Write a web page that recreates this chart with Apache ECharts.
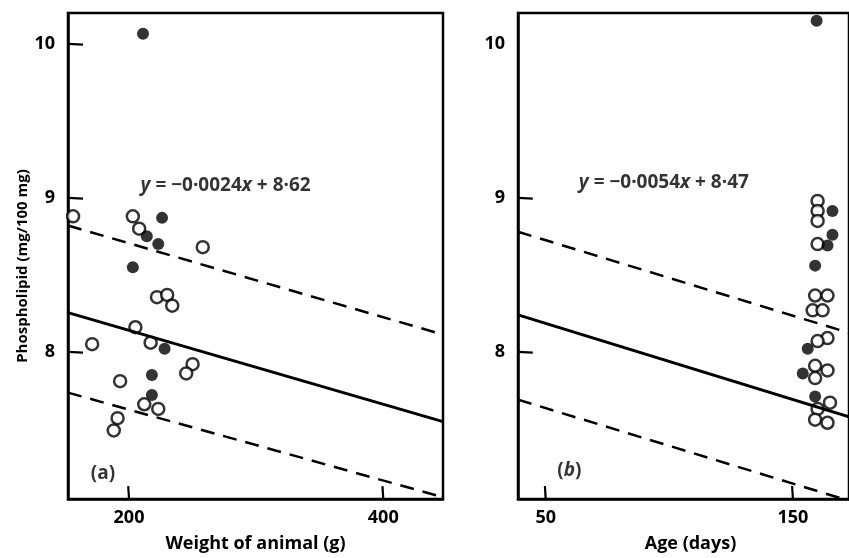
<!DOCTYPE html>
<html>
<head>
<meta charset="utf-8">
<script src="https://cdn.jsdelivr.net/npm/echarts@6/dist/echarts.min.js"></script>
<style>
  html, body { margin: 0; padding: 0; background: #fff; }
  #chart { width: 849px; height: 558px; }
</style>
</head>
<body>
<div id="chart"></div>
<script>
// panel (a): weight of animal vs phospholipid
const weightOpen = [[156, 8.88], [203, 8.88], [208, 8.80], [258, 8.68], [222, 8.355], [230, 8.37],
  [234, 8.30], [205, 8.16], [171, 8.05], [217, 8.06], [250, 7.92], [245, 7.86], [193, 7.81],
  [212, 7.66], [223, 7.63], [191, 7.57], [188, 7.49]];
const weightFilled = [[211, 10.065], [226, 8.87], [214, 8.75], [223, 8.70], [203, 8.55],
  [228, 8.02], [218, 7.85], [218, 7.72]];
// panel (b): age vs phospholipid
const ageOpen = [[160, 8.98], [160, 8.915], [160, 8.85], [160, 8.70], [159, 8.366], [164, 8.366],
  [158, 8.27], [162, 8.27], [164, 8.09], [160, 8.07], [159, 7.91], [164, 7.88], [159, 7.83],
  [165, 7.67], [160, 7.63], [159, 7.56], [164, 7.54]];
const ageFilled = [[159.6, 10.15], [166, 8.915], [166, 8.76], [164, 8.69], [159, 8.56],
  [156, 8.02], [154, 7.86], [159, 7.71]];

// fitted lines [slope, intercept]: regression, upper and lower limits
const fitA = [-0.0024, 8.62];
const limitsA = [[-0.0024, 9.185], [-0.0023, 8.085]];
const fitB = [-0.00494, 8.432];
const limitsB = [[-0.0049, 8.97], [-0.0049, 7.88]];

const rangeA = [152, 447];
const rangeB = [38.8, 172.7];
const yRange = [7.045, 10.2];
const ticksA = [200, 400];
const ticksB = [50, 150];
const ticksY = [8, 9, 10];
const ticksYb = [8, 9];

const eqA = "−0·0024";
const eqB = "−0·0054";
const constA = "8·62";
const constB = "8·47";
const eqPosA = [276, 9.08];
const eqPosB = [97.8, 9.1];
const tagPosA = [179.5, 7.21];
const tagPosB = [59.6, 7.23];

const FONT = "Open Sans";
const GRID_A = { left: 68, top: 13, width: 375, height: 489 };
const GRID_B = { left: 518, top: 13, width: 336, height: 488 };
const lineOf = (c, r) => r.map(x => [x, c[0] * x + c[1]]);

const chart = echarts.init(document.getElementById("chart"), null, { renderer: "canvas" });

const xAxisBase = (range, ticks, name) => ({
  type: "value",
  min: range[0],
  max: range[1],
  name: name,
  nameLocation: "middle",
  nameGap: 36,
  nameTextStyle: { fontFamily: FONT, fontWeight: "bold", fontSize: 18, color: "#000" },
  axisLine: { show: true, onZero: false, lineStyle: { color: "#000", width: 2.5 } },
  splitLine: { show: false },
  axisTick: { show: false },
  axisLabel: { customValues: ticks, margin: 10, fontFamily: FONT, fontWeight: "bold", fontSize: 18, color: "#000" }
});

const yAxisBase = (name, ticks) => ({
  type: "value",
  min: yRange[0],
  max: yRange[1],
  name: name,
  nameLocation: "middle",
  nameGap: 38,
  nameTextStyle: { fontFamily: FONT, fontWeight: "bold", fontSize: 15, color: "#000", padding: [0, 20, 0, 0] },
  axisLine: { show: true, onZero: false, lineStyle: { color: "#000", width: 2.5 } },
  splitLine: { show: false },
  axisTick: { show: false },
  axisLabel: { customValues: ticks, margin: 13, fontFamily: FONT, fontWeight: "bold", fontSize: 18, color: "#000" }
});

const openStyle = { color: "#fff", borderColor: "#000", borderWidth: 2.5 };
const filledStyle = { color: "#000" };

const richText = {
  i: { fontFamily: FONT, fontStyle: "italic", fontWeight: "bold", fontSize: 19, color: "#000" },
  r: { fontFamily: FONT, fontWeight: "bold", fontSize: 19, color: "#000" }
};

const note = (idx, pos, text) => ({
  type: "scatter",
  xAxisIndex: idx, yAxisIndex: idx,
  symbolSize: 0,
  silent: true,
  data: [pos],
  label: { show: true, position: "inside", formatter: text, rich: richText }
});

const fitSeries = (idx, coef, range, dashed) => ({
  type: "line",
  xAxisIndex: idx, yAxisIndex: idx,
  data: lineOf(coef, range),
  symbol: "none",
  silent: true,
  lineStyle: dashed
    ? { color: "#000", width: 2.5, type: [14, 9] }
    : { color: "#000", width: 3 }
});

// inward tick marks as short line series; pixel lengths converted into axis units,
// with a slight lean like the hand-drawn ticks
const tickSeries = (idx, grid, xRange, xTicks, yTicks) => {
  const perPxY = (yRange[1] - yRange[0]) / grid.height;
  const perPxX = (xRange[1] - xRange[0]) / grid.width;
  const out = [];
  xTicks.forEach(v => out.push([[v, yRange[0]], [v - 0.8 * perPxX, yRange[0] + 13 * perPxY]]));
  yTicks.forEach(v => out.push([[xRange[0], v], [xRange[0] + 15 * perPxX, v - 0.8 * perPxY]]));
  return out.map(seg => ({
    type: "line",
    xAxisIndex: idx, yAxisIndex: idx,
    data: seg,
    symbol: "none",
    silent: true,
    clip: false,
    z: 5,
    lineStyle: { color: "#000", width: 2.2 }
  }));
};

chart.setOption({
  animation: false,
  backgroundColor: "#fff",
  grid: [
    Object.assign({ show: true, borderColor: "#000", borderWidth: 2.5, backgroundColor: "transparent" }, GRID_A),
    Object.assign({ show: true, borderColor: "#000", borderWidth: 2.5, backgroundColor: "transparent" }, GRID_B)
  ],
  xAxis: [
    Object.assign(xAxisBase(rangeA, ticksA, "Weight of animal (g)"), { gridIndex: 0 }),
    Object.assign(xAxisBase(rangeB, ticksB, "Age (days)"), { gridIndex: 1,
      nameTextStyle: { fontFamily: FONT, fontWeight: "bold", fontSize: 18, color: "#000", padding: [0, 0, 0, 14] } })
  ],
  yAxis: [
    Object.assign(yAxisBase("Phospholipid (mg/100 mg)", ticksY), { gridIndex: 0 }),
    Object.assign(yAxisBase("", ticksY), { gridIndex: 1 })
  ],
  series: [
    fitSeries(0, fitA, rangeA, false),
    fitSeries(0, limitsA[0], rangeA, true),
    fitSeries(0, limitsA[1], rangeA, true),
    fitSeries(1, fitB, rangeB, false),
    fitSeries(1, limitsB[0], rangeB, true),
    fitSeries(1, limitsB[1], rangeB, true),
    ...tickSeries(0, GRID_A, rangeA, ticksA, ticksY),
    ...tickSeries(1, GRID_B, rangeB, ticksB, ticksYb),
    { type: "scatter", xAxisIndex: 0, yAxisIndex: 0, data: weightOpen, symbolSize: 12, itemStyle: openStyle },
    { type: "scatter", xAxisIndex: 0, yAxisIndex: 0, data: weightFilled, symbolSize: 12, itemStyle: filledStyle },
    { type: "scatter", xAxisIndex: 1, yAxisIndex: 1, data: ageOpen, symbolSize: 12, itemStyle: openStyle },
    { type: "scatter", xAxisIndex: 1, yAxisIndex: 1, data: ageFilled, symbolSize: 12, itemStyle: filledStyle },
    note(0, eqPosA, "{i|y}{r| = " + eqA + "}{i|x}{r| + " + constA + "}"),
    note(1, eqPosB, "{i|y}{r| = " + eqB + "}{i|x}{r| + " + constB + "}"),
    note(0, tagPosA, "{r|(a)}"),
    note(1, tagPosB, "{r|(}{i|b}{r|)}")
  ]
});
</script>
</body>
</html>
